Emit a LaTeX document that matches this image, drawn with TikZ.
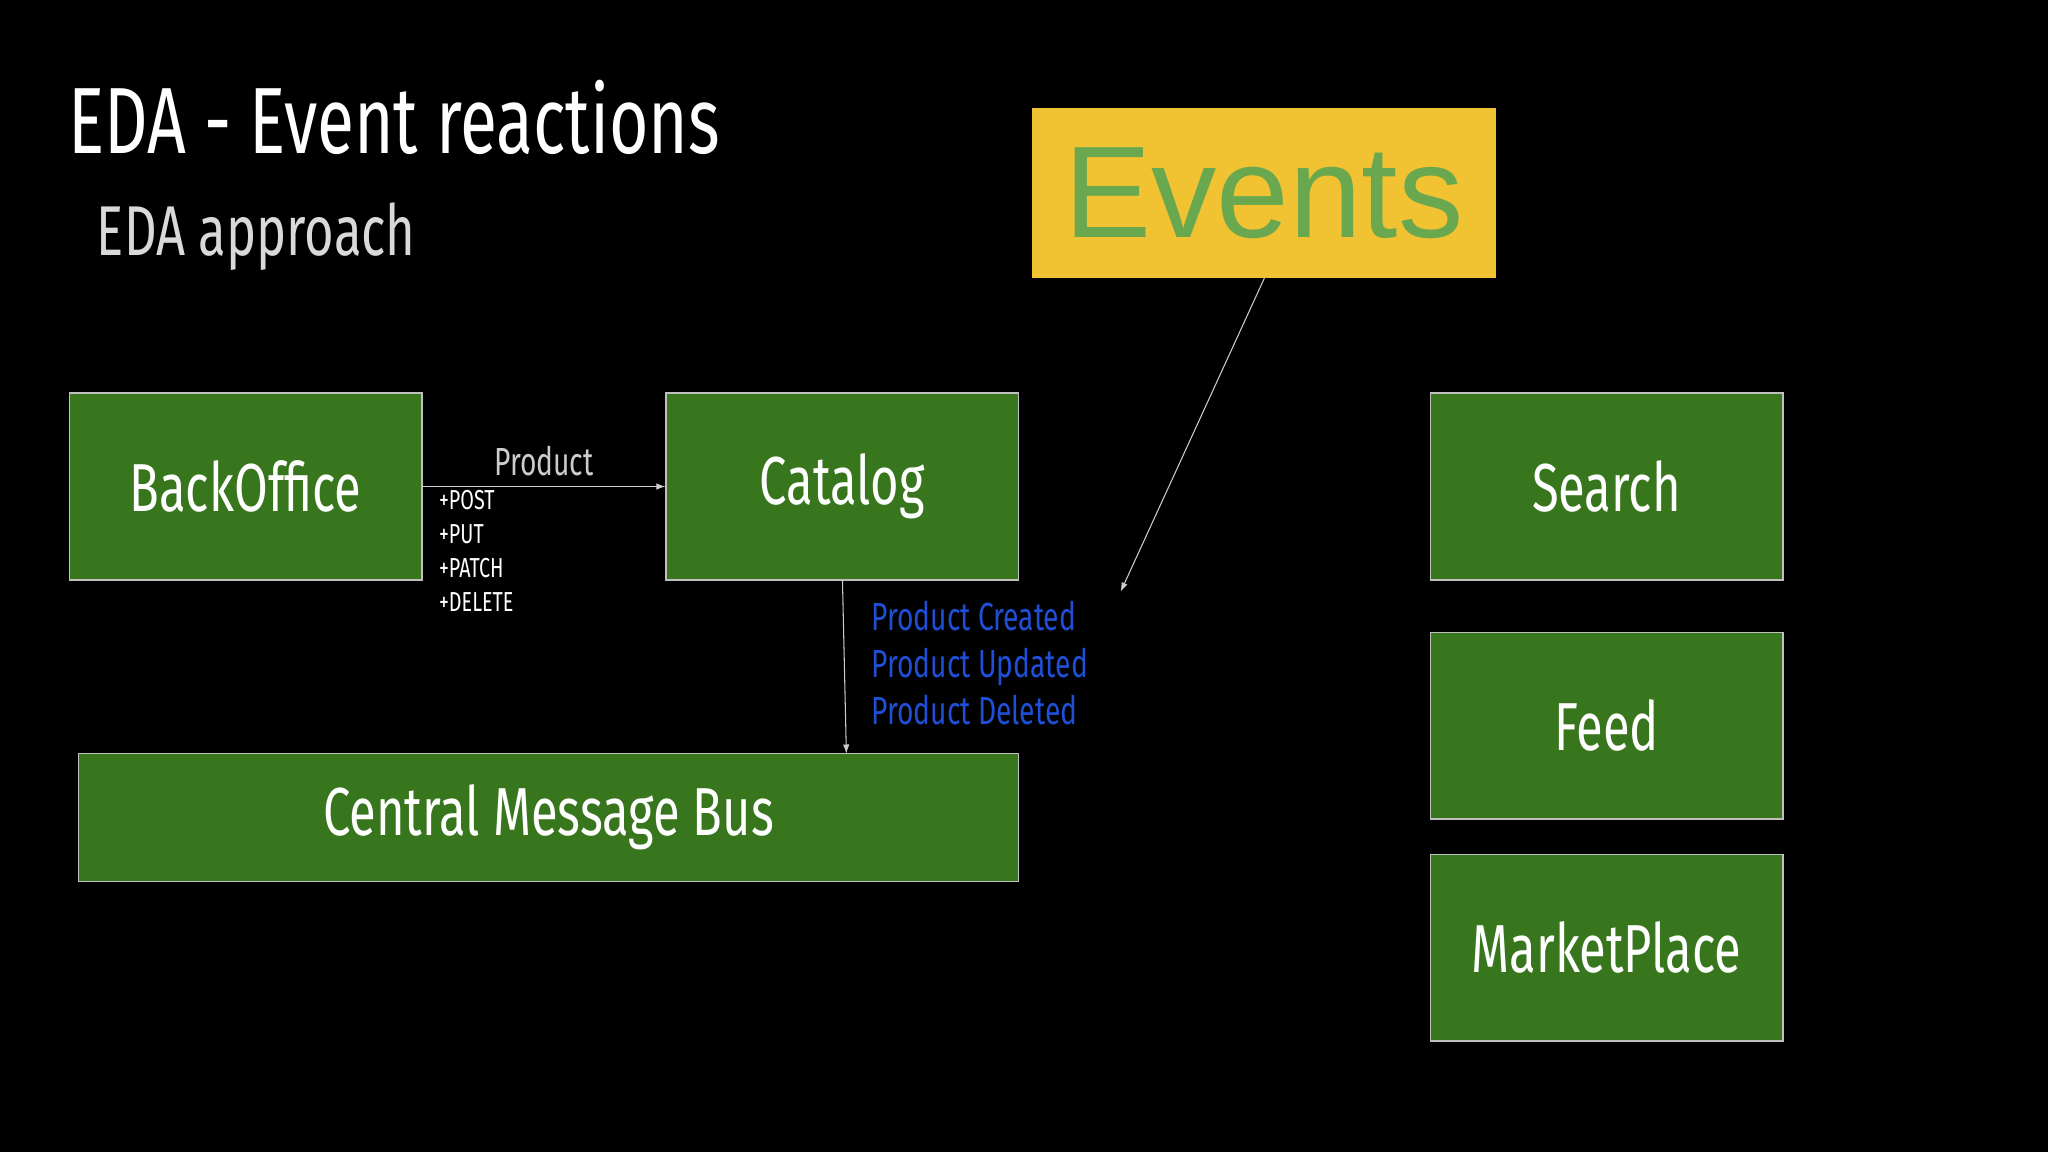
\documentclass[tikz,border=0pt]{standalone}
\usepackage{fontspec}
\setmainfont{Fira Sans}[FakeStretch=0.72]
\newfontfamily\evfont{Liberation Sans}
\usetikzlibrary{arrows.meta}
\definecolor{boxg}{HTML}{38761D}
\definecolor{evy}{HTML}{F1C232}
\definecolor{evg}{HTML}{6AA84F}
\definecolor{bl}{HTML}{1F4FD6}
\begin{document}
\begin{tikzpicture}[x=1pt,y=-1pt,
  box/.style={draw=black!25!white,line width=1pt,fill=boxg,text=white,font=\fontsize{52}{52}\selectfont,inner sep=0pt},
  conn/.style={draw=black!20!white,line width=0.8pt,-{Latex[length=7pt,width=5pt]}},
  lbl/.style={anchor=west,inner sep=0pt}]
\fill[black] (0,0) rectangle (1568,882);
\node[lbl,text=white,font=\fontsize{72}{72}\selectfont] (title) at (52,90) {EDA - Event reactions};
\node[lbl,text=black!15!white,font=\fontsize{54}{54}\selectfont] (sub) at (74,181) {EDA approach};
\node[fill=evy,minimum width=355,minimum height=130,inner sep=0pt,text=evg,font=\evfont\fontsize{100}{100}\selectfont] (ev) at (967.5,148) {Events};
\node[box,minimum width=270,minimum height=143] (bo) at (188,372.5) {BackOffice};
\node[box,minimum width=270,minimum height=143] (cat) at (645,372.5) {Catalog};
\node[box,minimum width=270,minimum height=143] (se) at (1230,372.5) {Search};
\node[box,minimum width=270,minimum height=143] (fe) at (1230,555.5) {Feed};
\node[box,minimum width=270,minimum height=143] (mp) at (1230,725.5) {MarketPlace};
\node[box,minimum width=720,minimum height=98] (bus) at (420,626) {Central Message Bus};
\draw[conn] (bo.east) -- node[above=4pt,text=black!20!white,font=\fontsize{30}{30}\selectfont] (prod) {Product} (cat.west);
\node[lbl,text=white,font=\fontsize{21}{26}\selectfont,align=left,anchor=north west] (meth) at (336,375) {+POST\\+PUT\\+PATCH\\+DELETE};
\coordinate (catb) at (645,444);
\coordinate (busT) at (648,577);
\draw[conn] (catb) -- (busT);
\node[lbl,text=bl,font=\fontsize{30}{36}\selectfont,align=left,anchor=north west] (evts) at (667,460) {Product Created\\Product Updated\\Product Deleted};
\coordinate (evtip) at (858,453);
\draw[conn] (968,213) -- (evtip);
\end{tikzpicture}
\end{document}
